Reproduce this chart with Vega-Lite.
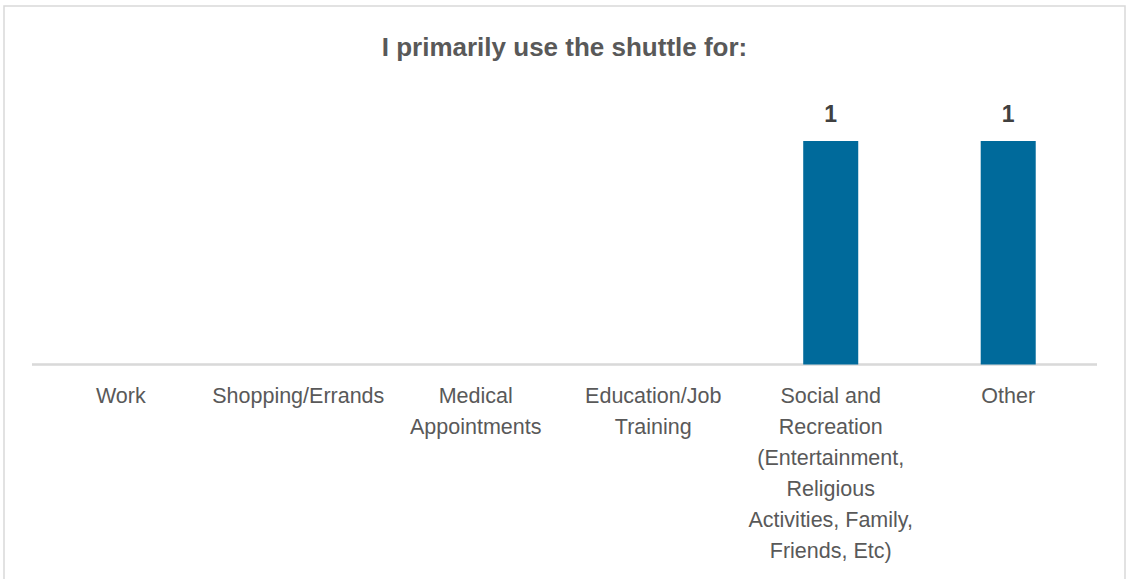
{
  "$schema": "https://vega.github.io/schema/vega-lite/v6.json",
  "autosize": {"type": "none"},
  "padding": {"left": 4, "top": 6, "right": 2, "bottom": 0},
  "width": 1121,
  "height": 584,
  "background": "#ffffff",
  "config": {
    "view": {"stroke": "#d9d9d9", "strokeWidth": 1.5},
    "font": "Liberation Sans"
  },
  "title": {
    "text": "I primarily use the shuttle for:",
    "font": "Liberation Sans",
    "fontSize": 26,
    "fontWeight": "bold",
    "color": "#595959",
    "anchor": "middle",
    "frame": "group",
    "baseline": "alphabetic",
    "offset": -76
  },
  "data": {
    "values": [
      {"purpose": "Work", "count": 0},
      {"purpose": "Shopping/Errands", "count": 0},
      {"purpose": "Medical Appointments", "count": 0},
      {"purpose": "Education/Job Training", "count": 0},
      {"purpose": "Social and Recreation (Entertainment, Religious Activities, Family, Friends, Etc)", "count": 1},
      {"purpose": "Other", "count": 1}
    ]
  },
  "encoding": {
    "x": {
      "field": "purpose",
      "type": "nominal",
      "sort": null,
      "scale": {
        "domain": ["Work", "Shopping/Errands", "Medical Appointments", "Education/Job Training", "Social and Recreation (Entertainment, Religious Activities, Family, Friends, Etc)", "Other"],
        "paddingInner": 0,
        "paddingOuter": 0.158
      },
      "axis": {
        "title": null,
        "orient": "bottom",
        "offset": -220,
        "domain": false,
        "ticks": false,
        "grid": false,
        "labelAngle": 0,
        "labelFont": "Liberation Sans",
        "labelFontSize": 21.5,
        "labelColor": "#595959",
        "labelPadding": 15,
        "labelLineHeight": 31,
        "labelBaseline": "top",
        "labelLimit": 400,
        "labelExpr": "datum.value == 'Medical Appointments' ? ['Medical', 'Appointments'] : datum.value == 'Education/Job Training' ? ['Education/Job', 'Training'] : indexof(datum.value, 'Social') == 0 ? ['Social and', 'Recreation', '(Entertainment,', 'Religious', 'Activities, Family,', 'Friends, Etc)'] : datum.value"
      }
    },
    "y": {
      "field": "count",
      "type": "quantitative",
      "scale": {"domain": [-1.009, 1.604], "nice": false, "zero": false},
      "axis": null
    }
  },
  "layer": [
    {
      "mark": {"type": "rule", "color": "#d9d9d9", "strokeWidth": 1.5},
      "encoding": {
        "x": {"datum": "Work", "type": "nominal", "bandPosition": 0},
        "x2": {"datum": "Other", "bandPosition": 1},
        "y": {"datum": 0, "type": "quantitative"}
      }
    },
    {
      "mark": {"type": "bar", "color": "#006a9b", "width": {"band": 0.31}},
      "encoding": {
        "y2": {"datum": 0}
      }
    },
    {
      "transform": [{"filter": "datum.count > 0"}],
      "mark": {
        "type": "text",
        "font": "Liberation Sans",
        "fontSize": 23,
        "fontWeight": "bold",
        "color": "#404040",
        "baseline": "bottom",
        "dy": -14
      },
      "encoding": {
        "text": {"field": "count", "type": "quantitative"}
      }
    }
  ]
}
